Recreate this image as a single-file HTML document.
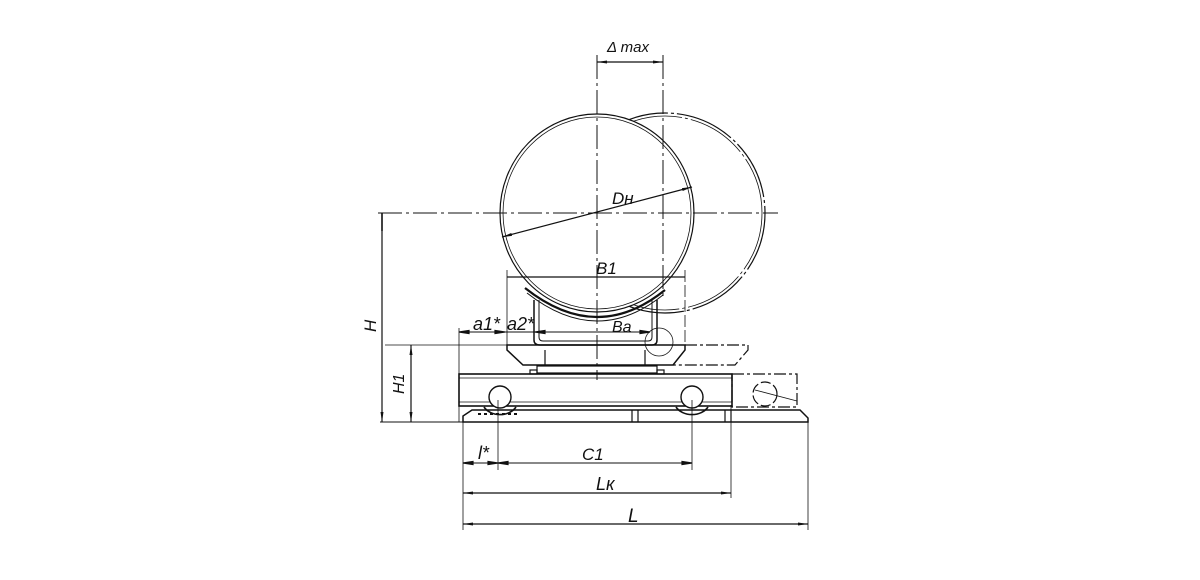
<!DOCTYPE html>
<html><head><meta charset="utf-8"><style>
html,body{margin:0;padding:0;background:#fff;}
svg{display:block;}
text{font-family:"Liberation Sans",sans-serif;font-style:italic;fill:#111;}
</style></head><body>
<svg width="1200" height="580" viewBox="0 0 1200 580" xmlns="http://www.w3.org/2000/svg">
<defs>
<marker id="a" markerWidth="10" markerHeight="6" refX="10" refY="3" orient="auto-start-reverse" markerUnits="userSpaceOnUse"><path d="M0,1.5 L10,3 L0,4.5 Z" fill="#111"/></marker>
</defs>
<g stroke="#111" fill="none" stroke-width="1.2">
<!-- second (displaced) circle -->
<ellipse cx="665" cy="213" rx="100" ry="100" stroke-dasharray="60,3,3,3"/>
<ellipse cx="665" cy="213" rx="97" ry="97" stroke-width="0.8" stroke-dasharray="60,3,3,3"/>
<!-- main circle, white-filled to hide overlap -->
<ellipse cx="597" cy="213" rx="97" ry="99" fill="#fff"/>
<ellipse cx="597" cy="213" rx="94" ry="96" stroke-width="0.8"/>
<!-- center lines -->
<line x1="378" y1="213" x2="778" y2="213" stroke-dasharray="24,4,3,4" stroke-width="1"/>
<line x1="382" y1="213" x2="382" y2="231" stroke-width="1.5"/>
<line x1="597" y1="55" x2="597" y2="380" stroke-dasharray="24,4,3,4" stroke-width="1"/>
<line x1="663" y1="55" x2="663" y2="300" stroke-dasharray="24,4,3,4" stroke-width="1"/>
<!-- Δmax -->
<line x1="597" y1="62" x2="663" y2="62" marker-start="url(#a)" marker-end="url(#a)"/>
<!-- Dh -->
<line x1="502" y1="237" x2="692" y2="187" marker-start="url(#a)" marker-end="url(#a)"/>
<!-- B1 -->
<line x1="507" y1="277" x2="685" y2="277"/>
<line x1="507" y1="270" x2="507" y2="345" stroke-width="0.8"/>
<line x1="685" y1="270" x2="685" y2="345" stroke-width="0.8" stroke-dasharray="12,3"/>
<!-- saddle -->
<path d="M525,288 Q597,345 665,290" stroke-width="2.2"/>
<path d="M527,293 Q597,348 663,295" stroke-width="1"/>
<path d="M534,300 L534,340 Q534,345 540,345 L652,345 Q657,345 657,340 L657,300" stroke-width="1.5"/>
<path d="M539,300 L539,337 Q539,341 543,341 L648,341 Q652,341 652,337 L652,300" stroke-width="1"/>
<circle cx="659" cy="342" r="14" stroke-width="0.8"/>
<!-- a1 a2 Ba dims -->
<line x1="459" y1="328" x2="459" y2="422" stroke-width="0.8"/>
<line x1="459" y1="332" x2="650" y2="332" stroke-width="0.9"/>
<path d="M459,332 l10,-1.5 v3z M505,332 l-10,-1.5 v3z M535,332 l10,-1.5 v3z M650,332 l-10,-1.5 v3z" fill="#111"/>
<!-- top plate -->
<path d="M507,345 L685,345 L685,350 L673,365 L523,365 L507,350 Z" stroke-width="1.5"/>
<line x1="685" y1="345" x2="748" y2="345" stroke-dasharray="12,3,3,3"/>
<path d="M748,345 L748,350 L735,365 L673,365" stroke-dasharray="12,3,3,3"/>
<line x1="545" y1="350" x2="545" y2="366"/><line x1="645" y1="350" x2="645" y2="366"/>
<rect x="537" y="366" width="120" height="7"/>
<rect x="530" y="370" width="7" height="4"/><rect x="657" y="370" width="7" height="4"/>
<!-- beam -->
<rect x="459" y="374" width="273" height="32" stroke-width="1.6"/>
<line x1="459" y1="378" x2="732" y2="378" stroke-width="0.8"/>
<line x1="459" y1="402" x2="732" y2="402" stroke-width="0.8"/>
<rect x="732" y="374" width="65" height="33" stroke-dasharray="12,3,3,3"/>
<!-- rollers -->
<circle cx="500" cy="397" r="11" fill="#fff" stroke-width="1.4"/>
<circle cx="692" cy="397" r="11" fill="#fff" stroke-width="1.4"/>
<path d="M484,407 A18,14 0 0 0 516,407" stroke-width="1.6"/>
<path d="M676,407 A18,14 0 0 0 708,407" stroke-width="1.6"/>
<circle cx="765" cy="394" r="12" stroke-dasharray="10,3"/>
<line x1="755" y1="390" x2="797" y2="401" stroke-width="0.8"/>
<!-- rail -->
<path d="M472,410 L800,410 L808,418 L808,422 L463,422 L463,416 Z" stroke-width="1.5"/>
<line x1="478" y1="414" x2="520" y2="414" stroke-dasharray="3,3" stroke-width="2"/>
<line x1="632" y1="410" x2="632" y2="422"/><line x1="638" y1="410" x2="638" y2="422"/>
<line x1="725" y1="410" x2="725" y2="422"/><line x1="731" y1="410" x2="731" y2="422"/>
<!-- baseline / H dims -->
<line x1="380" y1="422" x2="463" y2="422" stroke-width="0.9"/>
<line x1="385" y1="345" x2="507" y2="345" stroke-width="0.8"/>
<line x1="382" y1="213" x2="382" y2="422" marker-end="url(#a)"/>
<line x1="411" y1="345" x2="411" y2="422" marker-start="url(#a)" marker-end="url(#a)"/>
<!-- bottom ext -->
<line x1="463" y1="422" x2="463" y2="530" stroke-width="0.8"/>
<line x1="498" y1="400" x2="498" y2="470" stroke-width="0.8"/>
<line x1="692" y1="400" x2="692" y2="470" stroke-width="0.8"/>
<line x1="731" y1="405" x2="731" y2="498" stroke-width="0.8"/>
<line x1="808" y1="422" x2="808" y2="530" stroke-width="0.8"/>
<line x1="463" y1="463" x2="692" y2="463" stroke-width="0.9"/>
<path d="M463,463 l10,-1.5 v3z M498,463 l-10,-1.5 v3z M498,463 l10,-1.5 v3z M692,463 l-10,-1.5 v3z" fill="#111"/>
<line x1="463" y1="493" x2="731" y2="493" marker-start="url(#a)" marker-end="url(#a)"/>
<line x1="463" y1="524" x2="808" y2="524" marker-start="url(#a)" marker-end="url(#a)"/>
</g>
<text x="607" y="52" font-size="15">Δ max</text>
<text x="612" y="204" font-size="17">Dн</text>
<text x="596" y="274" font-size="17">B1</text>
<text x="612" y="332" font-size="16">Ba</text>
<text x="473" y="330" font-size="18">a1*</text>
<text x="507" y="330" font-size="18">a2*</text>
<text x="478" y="459" font-size="18">l*</text>
<text x="582" y="460" font-size="17">C1</text>
<text x="596" y="490" font-size="18">Lк</text>
<text x="628" y="522" font-size="19">L</text>
<text transform="translate(376,332) rotate(-90)" font-size="17">H</text>
<text transform="translate(404,394) rotate(-90)" font-size="16">H1</text>
</svg>
</body></html>
